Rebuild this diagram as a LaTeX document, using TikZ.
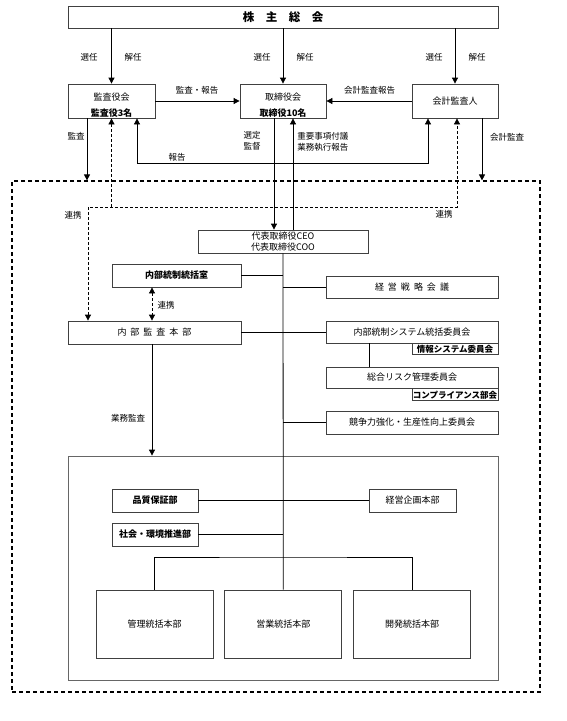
\documentclass[tikz,border=0pt]{standalone}
\usepackage{fontspec}
\setmainfont{Noto Sans CJK JP}
\usetikzlibrary{positioning,arrows.meta}

\begin{document}
\begin{tikzpicture}[x=1pt, y=-1pt, line width=0.8pt,
    >={Triangle[length=6pt,width=6pt]},
    % 样式
    box/.style={draw=black!75, fill=white, inner sep=0pt, align=center, font=\fontsize{9}{11}\selectfont},
    boldbox/.style={box, font=\fontsize{9}{11}\selectfont\bfseries},
    twoline/.style={box, minimum width=87pt, minimum height=34pt, text height=30pt, text depth=0pt, font=\fontsize{9}{16}\selectfont},
    widebox/.style={box, minimum width=172pt, minimum height=22pt},
    subbox/.style={box, minimum width=86pt, font=\fontsize{8.5}{10}\selectfont\bfseries},
    bigbox/.style={box, minimum width=117pt, minimum height=68pt},
    lbl/.style={inner sep=0pt, align=center, font=\fontsize{8.5}{10.5}\selectfont},
    renkei/.style={dash pattern=on 3pt off 2pt},
    ]
    \useasboundingbox (0,0) rectangle (567,721);

    % 外框
    \node[draw, line width=1.2pt, dash pattern=on 4pt off 3pt, minimum width=528pt, minimum height=511pt, inner sep=0pt] (company) at (276,436.5) {};
    \node[draw=black!60, minimum width=430pt, minimum height=224pt, inner sep=0pt] (honbu) at (283,568) {};

    % 节点:Nodes
    \node[box, minimum width=430pt, minimum height=22pt, font=\fontsize{11.5}{13}\selectfont\bfseries] (soukai) at (283,17) {株　主　総　会};
    \node[twoline] (kansayakukai) at (111.5,101) {監査役会\\\textbf{監査役3名}};
    \node[twoline, minimum width=86pt] (torishimari) at (283,101) {取締役会\\\textbf{取締役10名}};
    \node[box, minimum width=86pt, minimum height=34pt] (kaikei) at (455,101) {会計監査人};

    \node[box, minimum width=170pt, minimum height=23pt, font=\fontsize{9}{11.5}\selectfont] (ceo) at (283,241.5) {代表取締役CEO\\代表取締役COO};
    \node[boldbox, minimum width=129pt, minimum height=23pt] (naibutousei) at (176.5,275.5) {内部統制統括室};
    \node[box, minimum width=173pt, minimum height=23pt] (naibukansa) at (154.5,332.5) {内\hspace{4pt}部\hspace{4pt}監\hspace{4pt}査\hspace{4pt}本\hspace{4pt}部};

    \node[widebox] (senryaku) at (412,287) {経\hspace{4pt}営\hspace{4pt}戦\hspace{4pt}略\hspace{4pt}会\hspace{4pt}議};
    \node[widebox] (system) at (412,332) {内部統制システム統括委員会};
    \node[subbox, minimum height=11pt, below left=0pt of system.south east] (jouhou) {情報システム委員会};
    \node[widebox, minimum height=21pt] (risk) at (412,377.5) {総合リスク管理委員会};
    \node[subbox, minimum height=12pt, below left=0pt of risk.south east] (compliance) {コンプライアンス部会};
    \node[widebox, minimum height=23pt] (kyousou) at (412,422.5) {競争力強化・生産性向上委員会};

    \node[boldbox, minimum width=86pt, minimum height=23pt] (hinshitsu) at (155,500.5) {品質保証部};
    \node[box, minimum width=87pt, minimum height=23pt] (keiei) at (412.5,500.5) {経営企画本部};
    \node[boldbox, minimum width=86pt, minimum height=23pt] (shakai) at (155,534.5) {社会・環境推進部};

    \node[bigbox] (kanri) at (154.5,624) {管理統括本部};
    \node[bigbox, right=11pt of kanri] (eigyo) {営業統括本部};
    \node[bigbox, right=11pt of eigyo] (kaihatsu) {開発統括本部};

    % 标签
    \node[lbl] (sennin1) at (89,57) {選任};
    \node[lbl] (kainin1) at (133,57) {解任};
    \node[lbl] (sennin2) at (262,57) {選任};
    \node[lbl] (kainin2) at (305,57) {解任};
    \node[lbl] (sennin3) at (434,57) {選任};
    \node[lbl] (kainin3) at (477,57) {解任};
    \node[lbl] (kansahoukoku) at (197,90) {監査・報告};
    \node[lbl] (kaikeihoukoku) at (369.5,90.5) {会計監査報告};
    \node[lbl] (kansa) at (76,136) {監査};
    \node[lbl] (sentei) at (252,141) {選定\\監督};
    \node[lbl, anchor=west, align=left] (juuyou) at (297,142) {重要事項付議\\業務執行報告};
    \node[lbl] (houkoku) at (177,157) {報告};
    \node[lbl] (kaikeikansa) at (507,137) {会計監査};
    \node[lbl] (renkei1) at (73,215) {連携};
    \node[lbl] (renkei2) at (444,214) {連携};
    \node[lbl] (renkei3) at (166,305) {連携};
    \node[lbl] (gyoumukansa) at (128,418) {業務監査};

    % 坐标
    \coordinate (kansaX) at (87,0);
    \coordinate (kaikeiX) at (482,0);
    \coordinate (houkokuL) at (137,163);
    \coordinate (houkokuR) at (428,163);
    \coordinate (renkeiL) at (88,207);
    \coordinate (renkeiR) at (457,207);
    \coordinate (gyoumuX) at (152,0);
    \coordinate (branch) at (283,557);

    % 连线:Lines
    \draw[->] (soukai.south -| kansayakukai.north) -- (kansayakukai.north);
    \draw[->] (soukai.south -| torishimari.north) -- (torishimari.north);
    \draw[->] (soukai.south -| kaikei.north) -- (kaikei.north);
    \draw[->] (kansayakukai.east) -- (torishimari.west);
    \draw[->] (kaikei.west) -- (torishimari.east);
    \draw[->] (kansayakukai.south -| kansaX) -- (company.north -| kansaX);
    \draw[->] (kaikei.south -| kaikeiX) -- (company.north -| kaikeiX);
    \draw[<->] (kansayakukai.south -| houkokuL) -- (houkokuL) -- (houkokuR) -- (kaikei.south -| houkokuR);
    \draw[->] ([xshift=-9pt]torishimari.south) -- ([xshift=-9pt]ceo.north);
    \draw[<-] ([xshift=10pt]torishimari.south) -- ([xshift=10pt]ceo.north);

    \draw[renkei,<->] (naibukansa.north -| renkeiL) -- (renkeiL) -- (renkeiR) -- (kaikei.south -| renkeiR);
    \draw[renkei,->] (kansayakukai |- renkeiL) -- (kansayakukai.south);
    \draw[renkei,<->] (naibutousei.south -| gyoumuX) -- (naibukansa.north -| gyoumuX);

    \draw (ceo.south) -- (eigyo.north);
    \draw (naibutousei.east) -- (naibutousei.east -| ceo.south);
    \draw (naibukansa.east) -- (naibukansa.east -| ceo.south);
    \draw (senryaku.west) -- (senryaku.west -| ceo.south);
    \draw (system.west) -- (system.west -| ceo.south);
    \draw (kyousou.west) -- (kyousou.west -| ceo.south);
    \draw ([xshift=-43pt]system.south) -- ([xshift=-43pt]risk.north);
    \draw (hinshitsu.east) -- (keiei.west);
    \draw (shakai.east) -- (shakai.east -| ceo.south);
    \draw (kanri.north) |- (branch) -| (kaihatsu.north);
    \draw[->] (naibukansa.south -| gyoumuX) -- (honbu.north -| gyoumuX);

\end{tikzpicture}
\end{document}
